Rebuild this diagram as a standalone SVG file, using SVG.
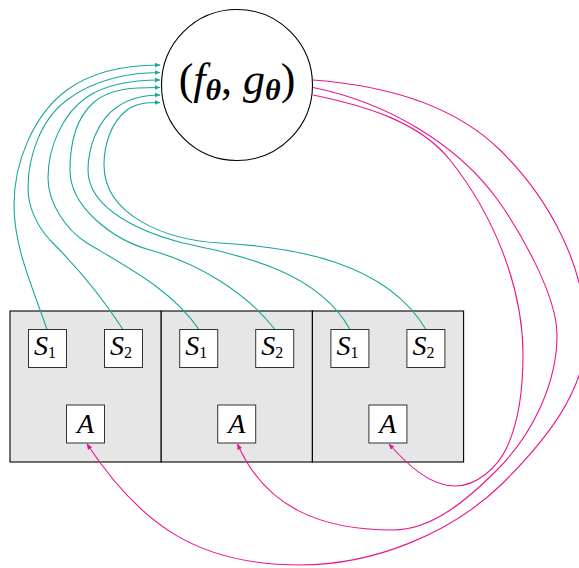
<svg xmlns="http://www.w3.org/2000/svg" width="579" height="568" viewBox="0 0 579 568">
<style>
.panel{fill:#e6e6e6;stroke:#000;stroke-width:1.1}
.box{fill:#fff;stroke:#333;stroke-width:1}
.lbl{font-family:"Liberation Serif","DejaVu Serif",serif;font-size:28px;fill:#000}
.it{font-style:italic}
.sub{font-size:16px;font-style:normal}
.teal{fill:none;stroke:#1aa89c;stroke-width:1.1;marker-end:url(#at)}
.mag{fill:none;stroke:#e8178a;stroke-width:1.1;marker-end:url(#am)}
</style>
<defs>
<marker id="at" viewBox="0 0 6 5" refX="5.5" refY="2.5" markerWidth="6" markerHeight="5" orient="auto" markerUnits="userSpaceOnUse"><path d="M0,0 L6,2.5 L0,5 z" fill="#1aa89c"/></marker>
<marker id="am" viewBox="0 0 6 5" refX="5.5" refY="2.5" markerWidth="6" markerHeight="5" orient="auto" markerUnits="userSpaceOnUse"><path d="M0,0 L6,2.5 L0,5 z" fill="#e8178a"/></marker>
</defs>
<g id="model">
<circle cx="237" cy="85" r="75.5" fill="#fff" stroke="#000" stroke-width="1.1"/>
<text x="237" y="94" text-anchor="middle" font-family="Liberation Serif, DejaVu Serif, serif" font-size="44">(<tspan font-style="italic">f</tspan><tspan font-size="30" font-weight="bold" font-style="italic" dy="6">θ</tspan><tspan dy="-6">, </tspan><tspan font-style="italic">g</tspan><tspan font-size="30" font-weight="bold" font-style="italic" dy="6">θ</tspan><tspan dy="-6">)</tspan></text>
</g>
<g id="panel1"><rect class="panel" x="10" y="311" width="151.2" height="151"/></g>
<g id="panel2"><rect class="panel" x="161.2" y="311" width="151.2" height="151"/></g>
<g id="panel3"><rect class="panel" x="312.4" y="311" width="151.2" height="151"/></g>
<g id="connectors">
<path class="teal" d="M47,329.5 C33,288 14,248 14,205 C14,163 33,115 67,90 C93,71 128,65 160,65"/>
<path class="teal" d="M123,329.5 C102,297 77,267 50,240 C37,226 28,207 28,188 C28,156 41,119 67,100 C93,80 128,72.5 160,72.5"/>
<path class="teal" d="M199,329.5 C172,290 127,267 87,243 C66,230 48,203 48,178 C48,148 62,114 87,97 C108,83 136,80 160,80"/>
<path class="teal" d="M275,329.5 C245,291 197,263 150,250 C114,240 70,208 70,170 C70,146 75.5,119 93,103 C110,87 138,87.5 160,87.5"/>
<path class="teal" d="M350,329.5 C318,272 244,256 183,243 C144,233 88,210 88,170 C88,147 98,120 117,107 C129,98.5 146,95 160,95"/>
<path class="teal" d="M426,329.5 C386,262 294,247 220,243 C165,240 104,215 104,165 C104,145 111,122 127,110 C136.5,102.5 149,102.5 160,102.5"/>
<path class="mag" d="M313,80 C380,85 452,103 500,150 C549,198 586,267 586,335 C586,392 543,443 503,483 C451,534 373,565 300,565 C200,565 142,527 87,444"/>
<path class="mag" d="M313,87.5 C385,102 458,143 500,203 C520,232 557,295 557,335 C557,384 532,435 497,470 C469,498 433,530 393,530 C320,530 265,507 237.5,444"/>
<path class="mag" d="M313,95 C362,105 419,121 450,160 C493,214 523,286 523,355 C523,386 520,419 507,447 C498,467 477,486 455,486 C429,486 406,463 389,444"/>
</g>
<g id="p1s1"><rect class="box" x="28.5" y="329.5" width="38" height="38"/><text class="lbl" x="34" y="355"><tspan class="it">S</tspan><tspan class="sub" dy="3">1</tspan></text></g>
<g id="p1s2"><rect class="box" x="104.5" y="329.5" width="38" height="38"/><text class="lbl" x="110" y="355"><tspan class="it">S</tspan><tspan class="sub" dy="3">2</tspan></text></g>
<g id="p1a"><rect class="box" x="66.5" y="405" width="38" height="38"/><text class="lbl it" x="85.5" y="433" text-anchor="middle">A</text></g>
<g id="p2s1"><rect class="box" x="179.7" y="329.5" width="38" height="38"/><text class="lbl" x="185.2" y="355"><tspan class="it">S</tspan><tspan class="sub" dy="3">1</tspan></text></g>
<g id="p2s2"><rect class="box" x="255.7" y="329.5" width="38" height="38"/><text class="lbl" x="261.2" y="355"><tspan class="it">S</tspan><tspan class="sub" dy="3">2</tspan></text></g>
<g id="p2a"><rect class="box" x="217.7" y="405" width="38" height="38"/><text class="lbl it" x="236.7" y="433" text-anchor="middle">A</text></g>
<g id="p3s1"><rect class="box" x="330.9" y="329.5" width="38" height="38"/><text class="lbl" x="336.4" y="355"><tspan class="it">S</tspan><tspan class="sub" dy="3">1</tspan></text></g>
<g id="p3s2"><rect class="box" x="406.9" y="329.5" width="38" height="38"/><text class="lbl" x="412.4" y="355"><tspan class="it">S</tspan><tspan class="sub" dy="3">2</tspan></text></g>
<g id="p3a"><rect class="box" x="368.9" y="405" width="38" height="38"/><text class="lbl it" x="387.9" y="433" text-anchor="middle">A</text></g>
</svg>
